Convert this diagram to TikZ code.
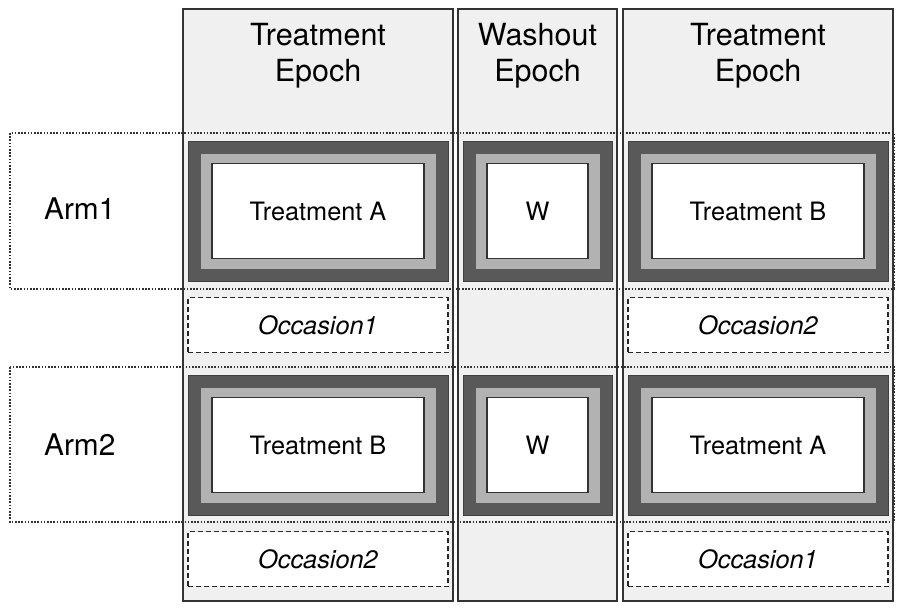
\documentclass[tikz,border=0pt]{standalone}
\usepackage{fontspec}
\setmainfont{TeX Gyre Heros}

\begin{document}
\begin{tikzpicture}[x=1pt, y=-1pt,
  epoch/.style={draw=black!80, line width=1.6pt, fill=black!6, inner sep=0pt},
  epochtitle/.style={align=center, inner sep=0pt, font=\fontsize{30.5}{36}\selectfont},
  armrow/.style={draw=black!80, line width=1.8pt, dash pattern=on 1.6pt off 1.6pt},
  armtitle/.style={anchor=west, inner sep=0pt, font=\fontsize{29.8}{34}\selectfont},
  outerbox/.style={draw=black!75, fill=black!65, line width=1pt, inner sep=0pt, minimum height=140pt},
  midbox/.style={draw=black!65, fill=black!30, line width=1pt, inner sep=0pt, minimum height=116pt},
  innerbox/.style={draw=black!80, fill=white, line width=1.6pt, inner sep=0pt, minimum height=95pt,
    font=\fontsize{25.3}{30}\selectfont},
  occasion/.style={draw=black!85, fill=white, line width=1.8pt, dash pattern=on 5pt off 3pt,
    inner sep=0pt, minimum height=55pt, font=\fontsize{25.3}{30}\selectfont\itshape}]

\useasboundingbox (0,0) rectangle (906,611);

% epochs
\foreach \n/\cx/\w/\txt in {ep1/318/270/{Treatment\\Epoch}, ep2/537.5/159/{Washout\\Epoch}, ep3/758/270/{Treatment\\Epoch}} {
  \node[epoch, minimum width=\w, minimum height=592] (\n) at (\cx,305) {};
  \node[epochtitle] (\n-title) at (\cx,56) {\txt};
}

% arms
\draw[armrow] (10,133) rectangle (894,289);
\draw[armrow] (10,367) rectangle (894,522);
\node[armtitle] (arm1) at (44,209) {Arm1};
\node[armtitle] (arm2) at (44,444.5) {Arm2};

% cells
\foreach \n/\cx/\cy/\w/\txt in {a1e1/318/211/260/Treatment A, a1e2/537.5/211/149/W, a1e3/758/211/260/Treatment B,
    a2e1/318/445/260/Treatment B, a2e2/537.5/445/149/W, a2e3/758/445/260/Treatment A} {
  \node[outerbox, minimum width=\w] (\n) at (\cx,\cy) {};
  \node[midbox, minimum width=\w-24] (\n-mid) at (\n) {};
  \node[innerbox, minimum width=\w-48] (\n-in) at (\n) {\txt};
}

% occasions
\foreach \n/\cx/\cy/\txt in {o11/318/325/Occasion1, o13/758/325/Occasion2, o21/318/559/Occasion2, o23/758/559/Occasion1}
  \node[occasion, minimum width=260] (\n) at (\cx,\cy) {\txt};

\end{tikzpicture}
\end{document}
